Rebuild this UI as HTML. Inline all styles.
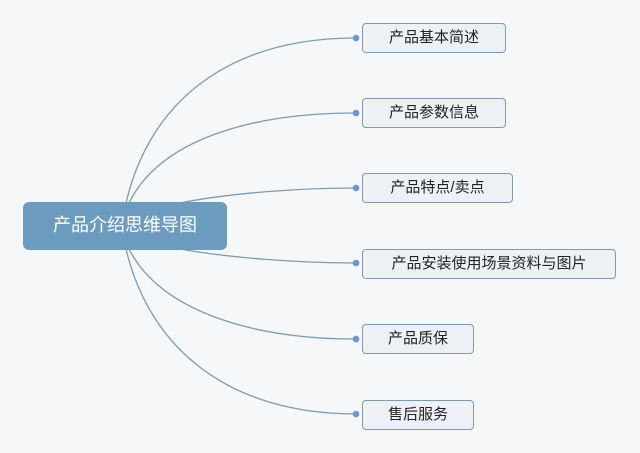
<!DOCTYPE html>
<html><head><meta charset="utf-8"><style>
body{margin:0;width:640px;height:453px;background:#f6f7f9;overflow:hidden;font-family:"Liberation Sans","Noto Sans CJK SC",sans-serif;}
.b{position:absolute;box-sizing:border-box;border:1.5px solid #7a9ab8;border-radius:4px;background:#edf1f6;font-size:15px;color:#222;text-align:center;height:30px;line-height:27px;}
</style></head><body>
<svg width="640" height="453" style="position:absolute;left:0;top:0">
<g fill="none" stroke="#7d9bb3" stroke-width="1.3">
<path d="M126,203 C150,100 230,38 356,38"/>
<path d="M129,203 C160,140 250,113 356,113"/>
<path d="M180,203 C230,193 300,188 356,188"/>
<path d="M180,249 C230,258 300,263 356,263"/>
<path d="M129,249 C160,310 250,339 356,339"/>
<path d="M126,249 C150,350 230,414 356,414"/>
</g>
<g fill="#6a9acb">
<circle cx="356" cy="38" r="3.3"/><circle cx="356" cy="113" r="3.3"/><circle cx="356" cy="188" r="3.3"/>
<circle cx="356" cy="263" r="3.3"/><circle cx="356" cy="339" r="3.3"/><circle cx="356" cy="414" r="3.3"/>
</g>
</svg>
<div style="position:absolute;left:23px;top:202px;width:204px;height:48px;background:#6b9cbf;border-radius:6px;color:#fff;font-size:18px;line-height:46px;text-align:center">产品介绍思维导图</div>
<div class="b" style="left:362px;top:23px;width:144px">产品基本简述</div>
<div class="b" style="left:362px;top:98px;width:144px">产品参数信息</div>
<div class="b" style="left:362px;top:173px;width:151px">产品特点/卖点</div>
<div class="b" style="left:362px;top:249px;width:254px">产品安装使用场景资料与图片</div>
<div class="b" style="left:362px;top:324px;width:112px">产品质保</div>
<div class="b" style="left:362px;top:400px;width:112px">售后服务</div>
</body></html>
